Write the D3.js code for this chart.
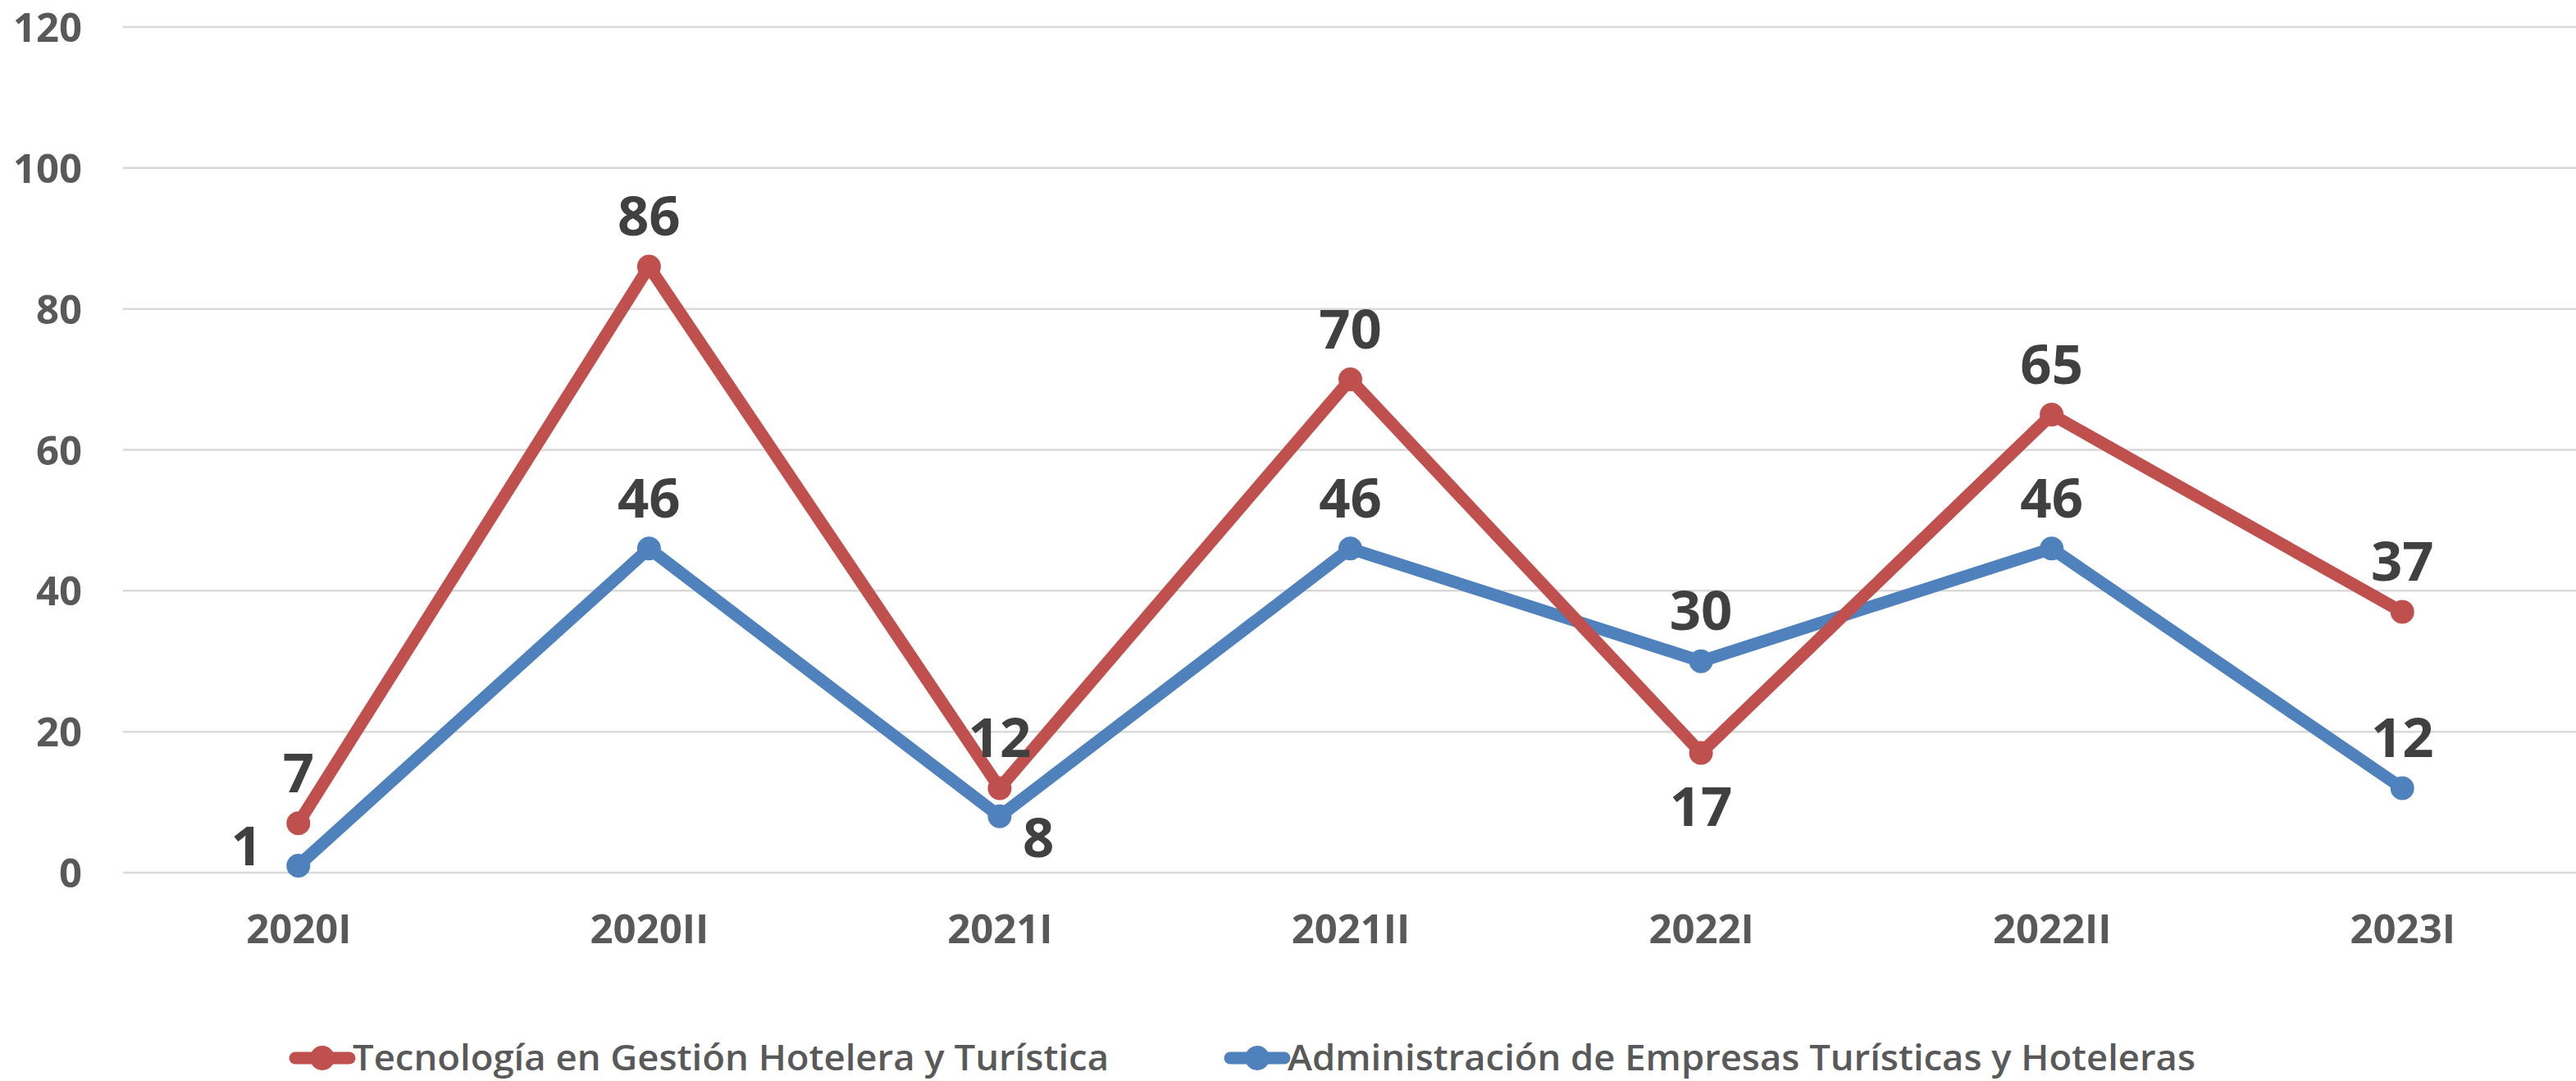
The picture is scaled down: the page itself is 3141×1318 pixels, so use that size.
<!DOCTYPE html>
<html>
<head>
<meta charset="utf-8">
<script src="https://d3js.org/d3.v7.min.js"></script>
<style>
  body { margin: 0; background: #fff; }
  text { font-family: "Open Sans", "Noto Sans", sans-serif; }
</style>
</head>
<body>
<div id="plot"></div>
<script>
var periodos = ["2020I", "2020II", "2021I", "2021II", "2022I", "2022II", "2023I"];
var tecnologia = [7, 86, 12, 70, 17, 65, 37];
var administracion = [1, 46, 8, 46, 30, 46, 12];
var yTicks = [0, 20, 40, 60, 80, 100, 120];
var nombres = ["Tecnología en Gestión Hotelera y Turística",
               "Administración de Empresas Turísticas y Hoteleras"];
// where each data label sits relative to its point
var posTec = ["above", "above", "above", "above", "below", "above", "above"];
var posAdm = ["left", "above", "right", "above", "above", "above", "above"];

var width = 3141, height = 1318;
var plot = {left: 150, right: 3143, top: 33, bottom: 1064};

var svg = d3.select("#plot").append("svg")
    .attr("width", width)
    .attr("height", height);

var x = d3.scalePoint()
    .domain(periodos)
    .range([plot.left, plot.right])
    .padding(0.5);

var y = d3.scaleLinear()
    .domain([0, 120])
    .range([plot.bottom, plot.top]);

// gridlines
svg.append("g")
    .selectAll("line")
    .data(yTicks)
    .enter().append("line")
    .attr("x1", plot.left)
    .attr("x2", width)
    .attr("y1", function(d) { return y(d); })
    .attr("y2", function(d) { return y(d); })
    .attr("stroke", "#d9d9d9")
    .attr("stroke-width", 2.5);

// Y axis labels
var axisY = svg.append("g")
    .attr("transform", "translate(100,0)")
    .call(d3.axisLeft(y).tickValues(yTicks).tickSize(0).tickPadding(0));
axisY.select(".domain").remove();
axisY.selectAll("text")
    .style("font-family", "'Open Sans', sans-serif")
    .style("font-size", "49px")
    .style("font-weight", "bold")
    .attr("fill", "#595959")
    .attr("dy", "0.36em");

// X axis labels
var axisX = svg.append("g")
    .attr("transform", "translate(0," + plot.bottom + ")")
    .call(d3.axisBottom(x).tickSize(0).tickPadding(0));
axisX.select(".domain").remove();
axisX.selectAll("text")
    .style("font-family", "'Open Sans', sans-serif")
    .style("font-size", "49px")
    .style("font-weight", "bold")
    .attr("fill", "#595959")
    .attr("dy", 0)
    .attr("y", 86);

var series = [
    {name: nombres[0], values: tecnologia, pos: posTec, color: "#c0504d"},
    {name: nombres[1], values: administracion, pos: posAdm, color: "#4f81bd"}
];

var valueline = d3.line()
    .x(function(d, i) { return x(periodos[i]); })
    .y(function(d) { return y(d); });

// draw blue first so red sits on top like the original
series.slice().reverse().forEach(function(s) {
    svg.append("path")
        .datum(s.values)
        .attr("fill", "none")
        .attr("stroke", s.color)
        .attr("stroke-width", 15)
        .attr("stroke-linejoin", "round")
        .attr("d", valueline);

    svg.append("g").selectAll("circle")
        .data(s.values)
        .enter().append("circle")
        .attr("cx", function(d, i) { return x(periodos[i]); })
        .attr("cy", function(d) { return y(d); })
        .attr("r", 14.5)
        .attr("fill", s.color);
});

// data labels
series.forEach(function(s) {
    svg.append("g").selectAll("text")
        .data(s.values)
        .enter().append("text")
        .text(function(d) { return d; })
        .style("font-size", "67px")
        .style("font-weight", "bold")
        .attr("fill", "#404040")
        .attr("text-anchor", function(d, i) {
            return s.pos[i] == "left" ? "end" : (s.pos[i] == "right" ? "start" : "middle");
        })
        .attr("x", function(d, i) {
            var px = x(periodos[i]);
            if (s.pos[i] == "left") return px - 44;
            if (s.pos[i] == "right") return px + 28;
            return px;
        })
        .attr("y", function(d, i) {
            var py = y(d);
            if (s.pos[i] == "below") return py + 89;
            if (s.pos[i] == "left") return py;
            if (s.pos[i] == "right") return py + 50;
            return py - 38;
        });
});

// legend
var legend = [
    {x: 360, w: 922},
    {x: 1500, w: 1107}
];
series.forEach(function(s, i) {
    var g = svg.append("g").attr("transform", "translate(" + legend[i].x + ",1290)");
    g.append("line")
        .attr("x1", 0).attr("x2", 66)
        .attr("stroke", s.color)
        .attr("stroke-width", 15)
        .attr("stroke-linecap", "round");
    g.append("circle")
        .attr("cx", 33).attr("r", 15)
        .attr("fill", s.color);
    g.append("text")
        .attr("x", 70)
        .attr("y", 15)
        .style("font-size", "44px")
        .style("font-weight", 600)
        .attr("fill", "#595959")
        .attr("textLength", legend[i].w)
        .attr("lengthAdjust", "spacingAndGlyphs")
        .text(s.name);
});
</script>
</body>
</html>
